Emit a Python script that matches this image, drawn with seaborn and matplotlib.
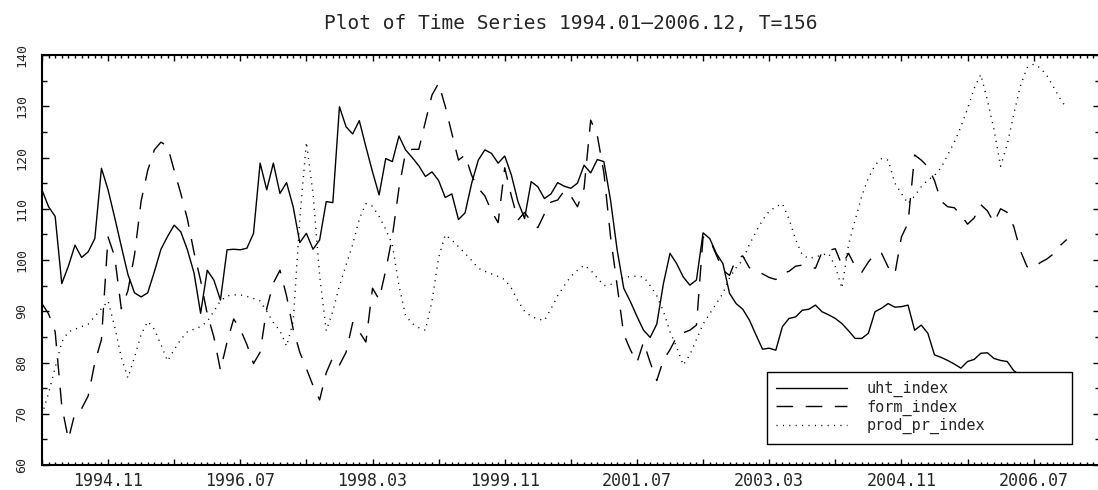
import numpy as np
import pandas as pd
import matplotlib
matplotlib.use("Agg")
import matplotlib.pyplot as plt
from matplotlib.ticker import MultipleLocator
import seaborn as sns

# monthly values 1994.01 - 2006.12 (one row per year)
uht_index = [
    113.7, 110.4, 108.5, 95.4, 98.8, 102.9, 100.5, 101.6, 104.2, 117.9, 113.7, 108.3,
    102.7, 97.2, 93.6, 92.8, 93.6, 97.7, 102.1, 104.6, 106.8, 105.5, 102.0, 97.5,
    89.6, 98.0, 96.1, 92.2, 102.0, 102.1, 102.0, 102.3, 105.2, 118.9, 113.7, 118.9,
    113.0, 115.1, 110.4, 103.4, 105.2, 102.1, 103.9, 111.4, 111.2, 129.9, 126.0, 124.6,
    127.2, 122.1, 117.2, 112.7, 119.8, 119.2, 124.2, 121.5, 120.0, 118.4, 116.3, 117.2,
    115.5, 112.2, 112.9, 107.9, 109.2, 115.0, 119.5, 121.5, 120.8, 118.9, 120.3, 116.6,
    111.4, 108.1, 115.3, 114.3, 112.0, 112.9, 115.1, 114.4, 114.0, 115.0, 118.5, 117.0,
    119.6, 119.2, 111.7, 102.0, 94.5, 91.9, 89.0, 86.3, 84.9, 87.5, 95.4, 101.3,
    99.3, 96.7, 95.1, 96.1, 105.3, 104.2, 101.3, 99.3, 93.5, 91.5, 90.4, 88.3,
    85.4, 82.6, 82.8, 82.4, 87.0, 88.6, 88.9, 90.2, 90.4, 91.2, 89.9, 89.3,
    88.6, 87.6, 86.2, 84.7, 84.7, 85.7, 89.9, 90.6, 91.5, 90.8, 90.9, 91.2,
    86.3, 87.3, 85.7, 81.5, 81.0, 80.4, 79.7, 78.9, 80.2, 80.6, 81.8, 81.9,
    80.8, 80.4, 80.2, 78.4, 77.5, 76.8, 76.0, 75.5, 76.2, 75.0, 74.5, 75.2,
]
form_index = [
    91.5, 89.5, 86.0, 71.5, 65.0, 70.2, 71.0, 73.5, 80.0, 84.5, 104.5, 100.7,
    90.5, 94.0, 101.0, 111.5, 117.5, 121.5, 123.0, 122.2, 117.5, 113.0, 108.0, 101.5,
    96.0, 89.5, 85.0, 78.5, 84.0, 88.5, 86.5, 83.5, 79.8, 82.0, 90.5, 95.5,
    98.0, 93.0, 86.5, 82.0, 78.8, 75.5, 72.7, 78.0, 81.0, 79.5, 82.0, 87.8,
    86.0, 84.0, 94.5, 92.3, 98.0, 104.6, 114.0, 121.0, 121.6, 121.6, 127.0, 132.2,
    134.5, 130.0, 124.7, 119.5, 120.5, 116.5, 114.0, 112.5, 109.5, 107.3, 118.0, 112.5,
    107.8, 109.3, 107.5, 106.3, 109.0, 111.3, 111.7, 113.5, 112.5, 110.4, 114.0, 127.3,
    124.3, 117.0, 104.6, 95.0, 85.5, 82.5, 80.0, 84.0, 80.0, 76.5, 80.5, 82.5,
    85.0, 85.8, 86.3, 87.3, 104.5, 104.0, 101.0, 98.0, 97.0, 100.3, 100.8, 98.5,
    98.0, 97.3, 96.6, 96.2, 97.4, 97.8, 98.8, 99.0, 98.7, 98.4, 101.6, 101.9,
    102.2, 99.0, 101.3, 98.8, 97.6, 99.6, 101.2, 101.3, 98.6, 97.2, 104.5, 107.2,
    120.5, 119.5, 118.2, 115.5, 111.5, 110.4, 110.2, 108.8, 107.0, 108.2, 110.8, 109.6,
    107.3, 110.0, 109.3, 106.5, 101.8, 98.7, 98.4, 99.5, 100.2, 101.2, 102.8, 104.0,
]
prod_pr_index = [
    69.8, 74.0, 79.0, 84.0, 86.0, 86.5, 87.0, 87.5, 89.0, 90.5, 92.0, 87.0,
    81.0, 77.0, 81.0, 85.5, 88.0, 86.5, 83.5, 80.3, 82.5, 84.5, 86.0, 86.5,
    87.0, 88.0, 90.0, 92.0, 93.0, 93.2, 93.2, 92.9, 92.5, 92.0, 90.0, 87.8,
    86.2, 83.2, 88.0, 108.0, 123.0, 113.0, 97.0, 86.2, 90.0, 95.0, 99.0, 103.0,
    108.0, 111.0, 110.5, 108.5, 106.0, 103.0, 95.0, 89.2, 87.6, 86.8, 86.3, 92.0,
    100.5, 104.9, 103.9, 102.6, 101.3, 99.9, 98.4, 97.8, 97.3, 96.8, 96.2, 94.5,
    92.0, 90.0, 89.0, 88.5, 88.2, 90.5, 93.0, 95.0, 96.8, 98.0, 99.0, 98.0,
    96.5, 95.0, 95.2, 96.0, 96.5, 96.8, 96.8, 96.7, 95.0, 93.0, 90.0, 86.0,
    83.0, 79.5, 81.5, 84.5, 87.5, 89.5, 91.5, 93.5, 96.5, 98.5, 100.0, 103.0,
    105.5, 107.8, 109.5, 110.4, 111.0, 108.0, 104.0, 101.0, 100.3, 100.6, 101.0, 101.3,
    98.7, 94.5, 103.0, 107.8, 112.5, 116.0, 118.5, 119.8, 119.5, 115.0, 113.0, 111.0,
    112.5, 114.3, 115.6, 116.5, 118.0, 120.5, 123.0, 126.0, 129.5, 133.5, 136.2, 131.2,
    125.5, 118.3, 122.5, 128.5, 134.0, 137.5, 138.2, 137.5, 136.0, 133.8, 131.5, 129.6,
]
series_names = ["uht_index", "form_index", "prod_pr_index"]
xtick_labels = ["1994.11", "1996.07", "1998.03", "1999.11",
                "2001.07", "2003.03", "2004.11", "2006.07"]
period = ["1994.01", "2006.12"]

t = np.arange(len(uht_index))
df = pd.DataFrame({"t": t, "uht_index": uht_index,
                   "form_index": form_index, "prod_pr_index": prod_pr_index})
long_df = df.melt(id_vars="t", var_name="series", value_name="value")

sns.set_theme(style="ticks")
plt.rcParams["font.family"] = ["DejaVu Sans Mono", "DejaVu Sans"]

fig = plt.figure(figsize=(10.98, 4.9), dpi=100)
ax = fig.add_axes([0.0382, 0.051, 0.9634, 0.8367])

sns.lineplot(data=long_df, x="t", y="value", style="series", style_order=series_names,
             dashes=["", (12, 9), (0.8, 3.8)], color="black", linewidth=1.0,
             errorbar=None, legend=False, ax=ax)

ax.set_xlim(0, 160)
ax.set_ylim(60, 140)
ax.set_xlabel("")
ax.set_ylabel("")

# month index of each labelled tick
y0 = int(period[0][:4])
label_pos = {(int(s[:4]) - y0) * 12 + int(s[5:]) - 1: s for s in xtick_labels}
major = list(range(0, 160, 10))
ax.set_xticks(major)
ax.set_xticklabels([label_pos.get(m, "") for m in major])
ax.xaxis.set_minor_locator(MultipleLocator(1))
ax.set_yticks(range(60, 141, 10))
ax.yaxis.set_minor_locator(MultipleLocator(5))

ax.tick_params(which="both", direction="in", top=True, right=True,
               bottom=True, left=True, color="black", width=1)
ax.tick_params(axis="x", which="major", length=4.5, pad=5, labelsize=12)
ax.tick_params(axis="x", which="minor", length=2.5)
ax.tick_params(axis="y", which="major", length=5, pad=10, labelsize=9.5, labelrotation=90)
ax.tick_params(axis="y", which="minor", length=3.5)
for lab in ax.get_yticklabels():
    lab.set_va("center")

for s in ax.spines.values():
    s.set_linewidth(1.5)
    s.set_color("black")

ax.set_title(f"Plot of Time Series {period[0]}\u2013{period[1]}, T={len(t)}",
             fontsize=14, pad=19)

leg = ax.legend(ax.lines[:3], series_names, loc="upper left",
                bbox_to_anchor=(0.6855, 0.0415, 0.2883, 0.1854), mode="expand",
                borderaxespad=0, fontsize=11, handlelength=4.6, handletextpad=1.3,
                labelspacing=0.15, borderpad=0.6, fancybox=False, framealpha=1)
leg.get_frame().set_edgecolor("black")
leg.get_frame().set_linewidth(1.0)

fig.savefig("out.png", dpi=100)
